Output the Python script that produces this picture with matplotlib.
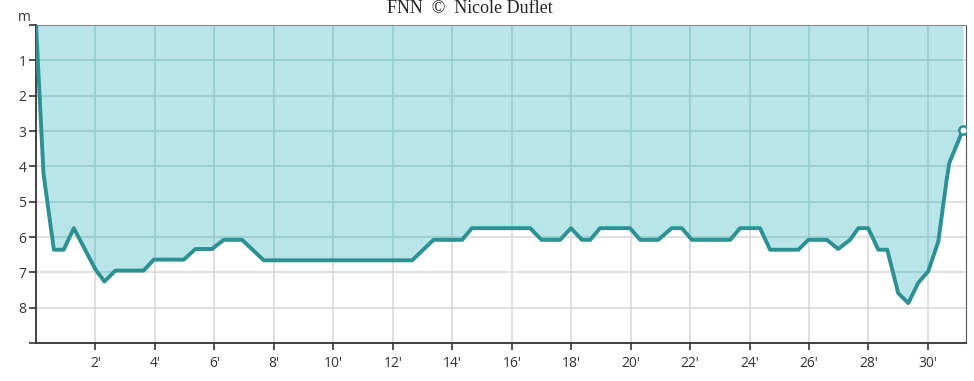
import numpy as np
import matplotlib.pyplot as plt

# dive profile: time (min) and depth (m)
minutes = [0, 0.25, 0.6, 0.93, 1.27, 2.0, 2.3, 2.67, 3.62, 3.96, 4.97, 5.36, 5.92,
           6.31, 6.93, 7.66, 12.65, 13.37, 14.33, 14.66, 16.62, 17.0, 17.63, 17.99,
           18.36, 18.64, 18.97, 19.98, 20.32, 20.93, 21.38, 21.72, 22.06, 23.35,
           23.68, 24.35, 24.69, 25.64, 25.98, 26.6, 26.98, 27.38, 27.66, 27.99,
           28.33, 28.63, 29.0, 29.34, 29.67, 30.01, 30.35, 30.63, 30.72, 31.18]
depth = [0, 4.2, 6.36, 6.36, 5.75, 6.92, 7.26, 6.95, 6.95, 6.64, 6.64, 6.34, 6.34,
         6.08, 6.08, 6.66, 6.66, 6.08, 6.08, 5.75, 5.75, 6.08, 6.08, 5.75,
         6.08, 6.08, 5.75, 5.75, 6.08, 6.08, 5.75, 5.75, 6.08, 6.08,
         5.75, 5.75, 6.36, 6.36, 6.08, 6.08, 6.34, 6.08, 5.75, 5.75,
         6.36, 6.36, 7.59, 7.87, 7.3, 6.97, 6.12, 4.37, 3.9, 2.96]

xticks = list(range(2, 31, 2))
xlabels = [str(t) + "'" for t in xticks]
yticks = list(range(0, 10))
ylabels = [''] + [str(t) for t in range(1, 9)] + ['']

line_col = '#2b9193'
fill_col = '#b9e5e9'

fig = plt.figure(figsize=(9.74, 3.81), dpi=100)
ax = fig.add_axes([0.037, 0.0997, 0.9548, 0.8347])

ax.set_xlim(0, 31.28)
ax.set_ylim(9, 0)
ax.set_xticks(xticks)
ax.set_xticklabels(xlabels)
ax.set_yticks(yticks)
ax.set_yticklabels(ylabels)
ax.set_axisbelow(True)
ax.grid(True, color='#dadada', lw=1.2)

fill = ax.fill_between(minutes, 0, depth, color=fill_col, zorder=1, linewidth=0)
# grid lines seen through the water are a darker teal
vl = ax.vlines(xticks, 0, 9, color='#97cbd0', lw=1.2, zorder=2)
hl = ax.hlines(yticks[1:], 0, 31.28, color='#97cbd0', lw=1.2, zorder=2)
vl.set_clip_path(fill.get_paths()[0], fill.get_transform())
hl.set_clip_path(fill.get_paths()[0], fill.get_transform())

ax.plot(minutes, depth, color=line_col, lw=2.8, zorder=3, solid_joinstyle='round')
ax.plot(minutes[-1], depth[-1], 'o', ms=6, mfc='white', mec=line_col, mew=1.8, zorder=4)

for lbl in ax.get_xticklabels() + ax.get_yticklabels():
    lbl.set_fontfamily('Open Sans')
    lbl.set_fontsize(10)
    lbl.set_color('#333333')
ax.tick_params(axis='both', direction='out', length=5, width=1.2, color='#333333')
ax.tick_params(axis='x', pad=4)
ax.tick_params(axis='y', pad=2)

ax.spines['left'].set_color('#333333')
ax.spines['bottom'].set_color('#333333')
ax.spines['left'].set_linewidth(1.3)
ax.spines['bottom'].set_linewidth(1.3)
ax.spines['top'].set_color('#888888')
ax.spines['right'].set_color('#555555')

fig.text(0.018, 0.955, 'm', fontfamily='Open Sans', fontsize=10, color='#333333',
         ha='left', va='center')
fig.text(0.482, 0.978, 'FNN  ©  Nicole Duflet', fontfamily='Liberation Serif',
         fontsize=13, color='#222222', ha='center', va='center')

plt.savefig('out.png', dpi=100)
